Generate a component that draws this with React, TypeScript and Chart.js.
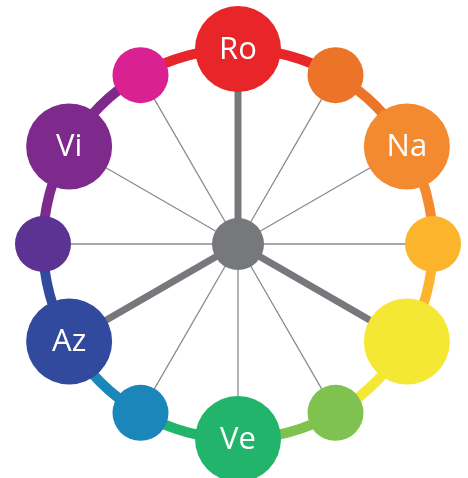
import React, { useEffect, useRef } from "react";
import { Chart, registerables } from "chart.js";

Chart.register(...registerables);

// Hue names, clockwise from the top (Ro = rojo, Na = naranja, Ve = verde, Az = azul, Vi = violeta)
const hueLabels = ["Ro", "", "Na", "", "", "", "Ve", "", "Az", "", "Vi", ""];
// Angular position of each hue on the wheel (degrees clockwise from top)
const hueAngles = [0, 30, 60, 90, 120, 150, 180, 210, 240, 270, 300, 330];
// Colour of each hue node
const hueColors = [
  "#E8262A", "#EB7429", "#F48A30", "#FBB42B", "#F5E834", "#80C24F",
  "#22B46B", "#1A86BA", "#324A9D", "#5C3292", "#7E2A8D", "#DA2191",
];
// Colour of each ring arc (arc i spans hueAngles[i] .. hueAngles[i+1])
const ringColors = [
  "#E8262A", "#EB7429", "#F48A30", "#FBB42B", "#F5E834", "#80C24F",
  "#22B46B", "#1A86BA", "#324A9D", "#7E2A8D", "#7E2A8D", "#E8262A",
];
// Each arc covers an equal share of the wheel
const ringShares = [1, 1, 1, 1, 1, 1, 1, 1, 1, 1, 1, 1];
// Primary hues get a thick spoke
const primaryIdx = [0, 4, 8];

const W = 468;
const H = 478;
const CX = 238;
const CY = 244;
const R = 195;

const rad = (d: number) => (d * Math.PI) / 180;
const nodePts = hueAngles.map((a) => ({ x: Math.sin(rad(a)), y: Math.cos(rad(a)) }));

export default function App() {
  const ringRef = useRef<HTMLCanvasElement>(null);
  const wheelRef = useRef<HTMLCanvasElement>(null);

  useEffect(() => {
    const ring = new Chart(ringRef.current!, {
      type: "doughnut",
      data: {
        labels: ringColors.map((_, i) => String(i)),
        datasets: [
          {
            data: ringShares,
            backgroundColor: ringColors,
            borderWidth: 0,
            hoverOffset: 0,
          },
        ],
      },
      options: {
        responsive: false,
        animation: false,
        cutout: 190,
        rotation: 0,
        layout: { padding: 0, autoPadding: false },
        plugins: { legend: { display: false }, tooltip: { enabled: false } },
        events: [],
      } as any,
    });

    const spokeSets = hueAngles.map((_, i) => {
      const primary = primaryIdx.includes(i);
      return {
        label: "spoke " + i,
        data: [{ x: 0, y: 0 }, nodePts[i]],
        showLine: true,
        borderColor: primary ? "#76787B" : "#8A8B8D",
        borderWidth: primary ? 7 : 1.3,
        pointRadius: 0,
        pointHoverRadius: 0,
        clip: false,
      } as any;
    });

    const labelPlugin = {
      id: "hueLabels",
      afterDatasetsDraw(chart: any) {
        const meta = chart.getDatasetMeta(0);
        const ctx = chart.ctx;
        ctx.save();
        ctx.fillStyle = "#FFFFFF";
        ctx.font = "31px 'Open Sans'";
        ctx.textAlign = "center";
        ctx.textBaseline = "middle";
        hueLabels.forEach((t, i) => {
          if (!t) return;
          const el = meta.data[i];
          ctx.fillText(t, el.x, el.y + 1);
        });
        ctx.restore();
      },
    };

    const wheel = new Chart(wheelRef.current!, {
      type: "scatter",
      data: {
        datasets: [
          {
            label: "hues",
            data: nodePts,
            pointRadius: hueAngles.map((_, i) => (i % 2 === 0 ? 43 : 28)),
            pointHoverRadius: hueAngles.map((_, i) => (i % 2 === 0 ? 43 : 28)),
            backgroundColor: hueColors,
            borderWidth: 0,
            pointBorderWidth: 0,
            clip: false,
          } as any,
          {
            label: "center",
            data: [{ x: 0, y: 0 }],
            pointRadius: 26,
            pointHoverRadius: 26,
            backgroundColor: "#76787B",
            borderWidth: 0,
            pointBorderWidth: 0,
            clip: false,
          } as any,
          ...spokeSets,
        ],
      },
      options: {
        responsive: false,
        animation: false,
        layout: { padding: 0, autoPadding: false },
        scales: {
          x: { type: "linear", display: false, min: -CX / R, max: (W - CX) / R },
          y: { type: "linear", display: false, min: -(H - CY) / R, max: CY / R },
        },
        plugins: { legend: { display: false }, tooltip: { enabled: false } },
        events: [],
      } as any,
      plugins: [labelPlugin],
    });

    return () => {
      ring.destroy();
      wheel.destroy();
    };
  }, []);

  return (
    <div style={{ position: "absolute", left: 0, top: 0, width: W, height: H, background: "#FFFFFF" }}>
      <canvas
        ref={ringRef}
        width={400}
        height={400}
        style={{ position: "absolute", left: CX - 200, top: CY - 200, width: 400, height: 400 }}
      />
      <canvas
        ref={wheelRef}
        width={W}
        height={H}
        style={{ position: "absolute", left: 0, top: 0, width: W, height: H }}
      />
    </div>
  );
}
